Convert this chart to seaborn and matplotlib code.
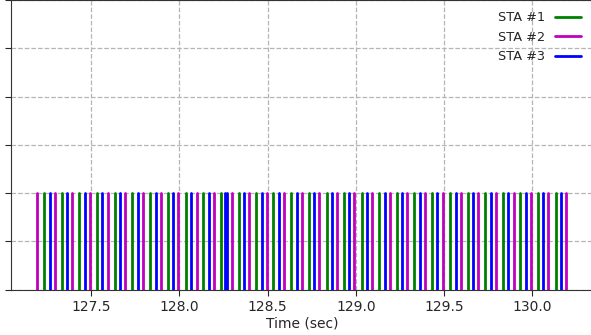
import matplotlib
matplotlib.use("Agg")
import matplotlib.pyplot as plt
import seaborn as sns
import pandas as pd

stations = ["STA #1", "STA #2", "STA #3"]
colors = ["#008000", "#bf00bf", "#0000ff"]
pulse_height = 2.0

sta1_times = [127.234, 127.332, 127.432, 127.532, 127.633, 127.732, 127.833, 127.933,
              128.035, 128.135, 128.235, 128.336, 128.434, 128.532, 128.632, 128.734,
              128.834, 128.933, 129.033, 129.131, 129.231, 129.331, 129.431, 129.533,
              129.634, 129.732, 129.832, 129.932, 130.032, 130.133]
sta2_times = [127.190, 127.294, 127.392, 127.493, 127.593, 127.693, 127.795, 127.895,
              127.993, 128.098, 128.196, 128.296, 128.394, 128.494, 128.592, 128.693,
              128.793, 128.891, 128.991, 129.093, 129.193, 129.291, 129.392, 129.496,
              129.594, 129.694, 129.794, 129.895, 129.994, 130.091, 130.191]
sta3_times = [127.264, 127.362, 127.463, 127.562, 127.663, 127.765, 127.867, 127.965,
              128.065, 128.166, 128.260, 128.271, 128.366, 128.466, 128.562, 128.664,
              128.763, 128.863, 128.963, 129.061, 129.163, 129.261, 129.362, 129.458,
              129.566, 129.666, 129.764, 129.864, 129.963, 130.061, 130.164]

rows = []
uid = 0
for name, times in zip(stations, [sta1_times, sta2_times, sta3_times]):
    for t in times:
        rows.append({"time": t, "val": 0.0, "sta": name, "unit": uid})
        rows.append({"time": t, "val": pulse_height, "sta": name, "unit": uid})
        uid += 1
df = pd.DataFrame(rows)

sns.set_style("ticks")
plt.rcParams["font.family"] = ["DejaVu Sans"]

fig = plt.figure(figsize=(5.91, 3.35), dpi=100)
ax = fig.add_axes([10.5 / 591, (335 - 289.5) / 335, (593 - 10.5) / 591, 0.864])

sns.lineplot(data=df, x="time", y="val", hue="sta", units="unit", estimator=None,
             hue_order=stations, palette=colors, linewidth=2.0, ax=ax, sort=False)

ax.set_xlim(127.042, 130.344)
ax.set_ylim(0, 6)
ax.set_xticks([127.5, 128.0, 128.5, 129.0, 129.5, 130.0])
ax.set_yticks([0, 1, 2, 3, 4, 5, 6])
ax.set_yticklabels([])
ax.tick_params(axis="both", direction="out", length=4, labelsize=10)
ax.grid(True, linestyle="--", color="#b5b5b5", linewidth=0.9)
ax.set_axisbelow(True)
ax.set_xlabel("Time (sec)", fontsize=10, labelpad=2)
ax.set_ylabel("")
for s in ["left", "bottom", "top"]:
    ax.spines[s].set_visible(True)
    ax.spines[s].set_color("#333333")
ax.spines["right"].set_visible(False)

handles, labels = ax.get_legend_handles_labels()
ax.legend(handles, labels, loc="upper right", frameon=False, markerfirst=False,
          fontsize=9.3, handlelength=2.0, labelspacing=0.5, borderaxespad=0,
          bbox_to_anchor=(586 / 591, 1 - 6 / 335), bbox_transform=fig.transFigure)

fig.savefig("out.png", dpi=100)
